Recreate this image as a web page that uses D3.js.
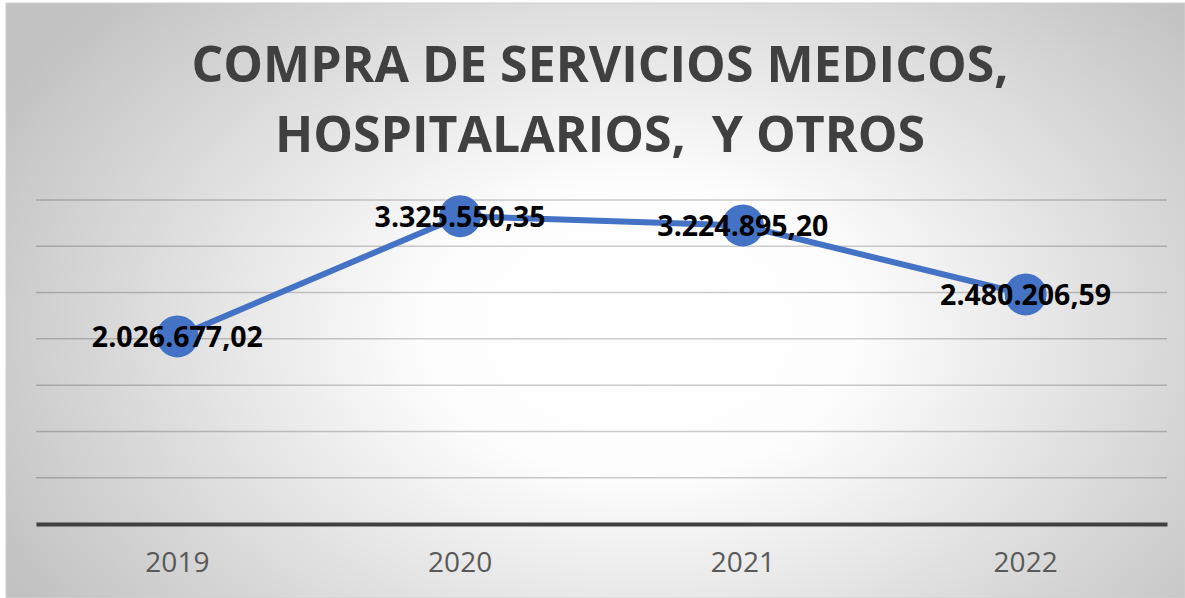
<!DOCTYPE html>
<html>
<head>
<meta charset="utf-8">
<script src="https://cdn.jsdelivr.net/npm/d3@7"></script>
<style>
  html, body { margin: 0; padding: 0; background: #fff; }
  svg { display: block; }
  .title { white-space: pre; }
</style>
</head>
<body>
<div id="chart"></div>
<script>
// Data
const years = ['2019', '2020', '2021', '2022'];
const values = [2026677.02, 3325550.35, 3224895.20, 2480206.59];
const valueLabels = ['2.026.677,02', '3.325.550,35', '3.224.895,20', '2.480.206,59'];
const gridTicks = [500000, 1000000, 1500000, 2000000, 2500000, 3000000, 3500000];
const titleLines = ['COMPRA DE SERVICIOS MEDICOS,', 'HOSPITALARIOS,  Y OTROS'];

const width = 1185;
const height = 598;
const plot = { left: 36, right: 1167, top: 200, bottom: 524 };

const svg = d3.select('#chart')
    .append('svg')
    .attr('width', width)
    .attr('height', height);

// Background gradient
const defs = svg.append('defs');
const grad = defs.append('radialGradient')
    .attr('id', 'bg')
    .attr('gradientUnits', 'userSpaceOnUse')
    .attr('cx', 640).attr('cy', 330)
    .attr('r', 720)
    .attr('gradientTransform', 'translate(640,330) scale(1,0.68) translate(-640,-330)');
grad.append('stop').attr('offset', '0%').attr('stop-color', '#ffffff');
grad.append('stop').attr('offset', '30%').attr('stop-color', '#fdfdfd');
grad.append('stop').attr('offset', '100%').attr('stop-color', '#c2c2c2');

svg.append('rect')
    .attr('x', 6).attr('y', 3)
    .attr('width', width - 6).attr('height', height - 3)
    .attr('fill', 'url(#bg)')
    .attr('stroke', '#d0d0d0')
    .attr('stroke-width', 1);

// Scales
const x = d3.scaleBand()
    .domain(years)
    .range([plot.left, plot.right]);

const y = d3.scaleLinear()
    .domain([0, 3500000])
    .range([plot.bottom, plot.top]);

// Gridlines
svg.append('g')
    .selectAll('line')
    .data(gridTicks)
    .enter()
    .append('line')
    .attr('x1', plot.left)
    .attr('x2', plot.right)
    .attr('y1', d => y(d))
    .attr('y2', d => y(d))
    .attr('stroke', '#000')
    .attr('stroke-opacity', 0.2)
    .attr('stroke-width', 1.5);

// X axis
const xAxis = svg.append('g')
    .attr('transform', `translate(0,${plot.bottom})`)
    .call(d3.axisBottom(x).tickSize(0).tickPadding(28));
xAxis.select('.domain')
    .attr('stroke', '#404040')
    .attr('stroke-width', 4);
xAxis.selectAll('text')
    .attr('font-family', '"Open Sans", sans-serif')
    .attr('font-size', 28)
    .attr('fill', '#595959');

// Title
svg.append('g')
    .selectAll('text')
    .data(titleLines)
    .enter()
    .append('text')
    .attr('class', 'title')
    .attr('x', 600)
    .attr('y', (d, i) => 82 + i * 70)
    .attr('text-anchor', 'middle')
    .attr('font-family', '"Open Sans", sans-serif')
    .attr('font-weight', 'bold')
    .attr('font-size', 50)
    .attr('fill', '#404040')
    .text(d => d);

// Line
const cx = d => x(d) + x.bandwidth() / 2;
const line = d3.line()
    .x((d, i) => cx(years[i]))
    .y(d => y(d));

svg.append('path')
    .datum(values)
    .attr('d', line)
    .attr('fill', 'none')
    .attr('stroke', '#4472c4')
    .attr('stroke-width', 6)
    .attr('stroke-linejoin', 'round');

svg.append('g')
    .selectAll('circle')
    .data(values)
    .enter()
    .append('circle')
    .attr('cx', (d, i) => cx(years[i]))
    .attr('cy', d => y(d))
    .attr('r', 21)
    .attr('fill', '#4472c4');

// Value labels
svg.append('g')
    .selectAll('text')
    .data(values)
    .enter()
    .append('text')
    .attr('x', (d, i) => cx(years[i]))
    .attr('y', d => y(d) + 11)
    .attr('text-anchor', 'middle')
    .attr('font-family', '"Open Sans", sans-serif')
    .attr('font-weight', 'bold')
    .attr('font-size', 28.5)
    .attr('fill', '#000')
    .text((d, i) => valueLabels[i]);
</script>
</body>
</html>
